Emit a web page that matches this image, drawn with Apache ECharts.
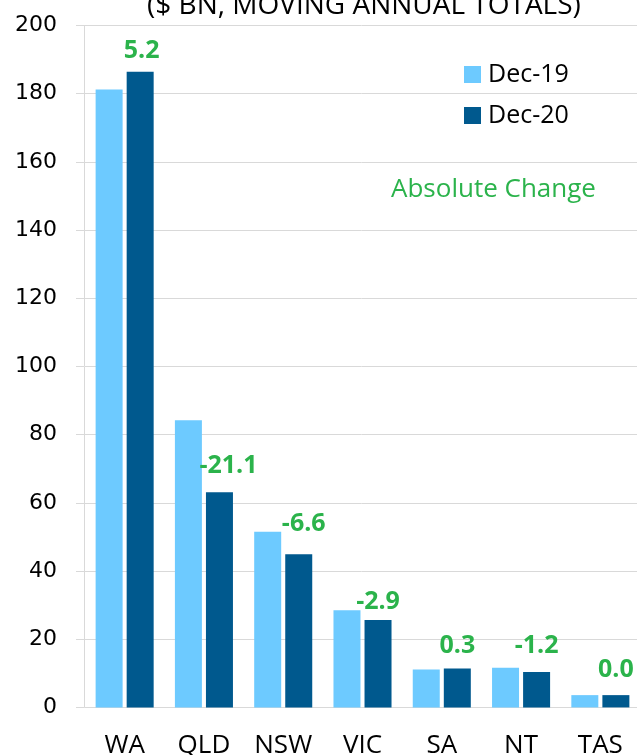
<!DOCTYPE html>
<html>
<head>
<meta charset="utf-8">
<script src="https://cdn.jsdelivr.net/npm/echarts@6/dist/echarts.min.js"></script>
<style>
html,body{margin:0;padding:0;background:#fff;}
#chart{width:637px;height:755px;}
</style>
</head>
<body>
<div id="chart"></div>
<script>
// ---- Data ----
const categories = ['WA', 'QLD', 'NSW', 'VIC', 'SA', 'NT', 'TAS'];
const dec19 = [181.2, 84.2, 51.5, 28.5, 11.1, 11.6, 3.6];
const dec20 = [186.4, 63.1, 44.9, 25.6, 11.4, 10.4, 3.6];
const absoluteChange = [5.2, -21.1, -6.6, -2.9, 0.3, -1.2, 0.0];
const yTicks = [0, 20, 40, 60, 80, 100, 120, 140, 160, 180, 200];

// ---- Label placement tweaks (style only) ----
const labelOffsets = [[1.5, 3], [9, -2.6], [5, -7], [0, 5], [0, 1.3], [0, -3], [0, -2]];

const GRID = '#D9D9D9';
const chart = echarts.init(document.getElementById('chart'));
chart.setOption({
  animation: false,
  backgroundColor: '#ffffff',
  title: [
    {
      text: '($ BN, MOVING ANNUAL TOTALS)',
      left: 147, top: -8, padding: 0,
      textStyle: { fontFamily: 'Open Sans', fontSize: 28, fontWeight: 'normal', color: '#000' }
    },
    {
      text: 'Absolute Change',
      left: 391, top: 177, padding: 0,
      textStyle: { fontFamily: 'Open Sans', fontSize: 26, fontWeight: 'normal', color: '#2BB34B' }
    }
  ],
  legend: {
    orient: 'vertical',
    left: 464, top: 62, padding: 0,
    itemWidth: 17, itemHeight: 17, itemGap: 16,
    icon: 'rect',
    textStyle: { fontFamily: 'Open Sans', fontSize: 25, lineHeight: 25, color: '#000', padding: [0, 0, 0, 2] },
    data: ['Dec-19', 'Dec-20']
  },
  grid: { left: 85, right: -3, top: 25.4, bottom: 47.6, containLabel: false, outerBoundsMode: 'none' },
  xAxis: {
    type: 'category',
    data: categories,
    axisLine: { show: true, lineStyle: { color: GRID, width: 1 } },
    axisTick: { show: false },
    axisLabel: { fontFamily: 'Open Sans', fontSize: 26, color: '#000', margin: 25, interval: 0 }
  },
  yAxis: {
    type: 'value',
    min: yTicks[0], max: yTicks[yTicks.length - 1], interval: yTicks[1] - yTicks[0],
    offset: 1,
    axisLine: { show: true, lineStyle: { color: GRID, width: 1 } },
    axisTick: { show: true, inside: false, length: 8, lineStyle: { color: GRID, width: 1 } },
    splitLine: { show: true, lineStyle: { color: GRID, width: 1 } },
    axisLabel: { fontFamily: 'DejaVu Sans', fontSize: 22, color: '#000', margin: 27 }
  },
  series: [
    {
      name: 'Dec-19', type: 'bar',
      data: dec19,
      barWidth: 27, barGap: '15%',
      itemStyle: { color: '#6DCAFF' }
    },
    {
      name: 'Dec-20', type: 'bar',
      data: dec20.map((v, i) => ({
        value: v,
        label: { offset: labelOffsets[i] }
      })),
      barWidth: 27, barGap: '15%',
      itemStyle: { color: '#00598E' },
      label: {
        show: true, position: 'top', distance: 11,
        fontFamily: 'Open Sans', fontSize: 25, fontWeight: 'bold', color: '#2BB34B',
        formatter: p => absoluteChange[p.dataIndex].toFixed(1)
      }
    }
  ]
});
</script>
</body>
</html>
